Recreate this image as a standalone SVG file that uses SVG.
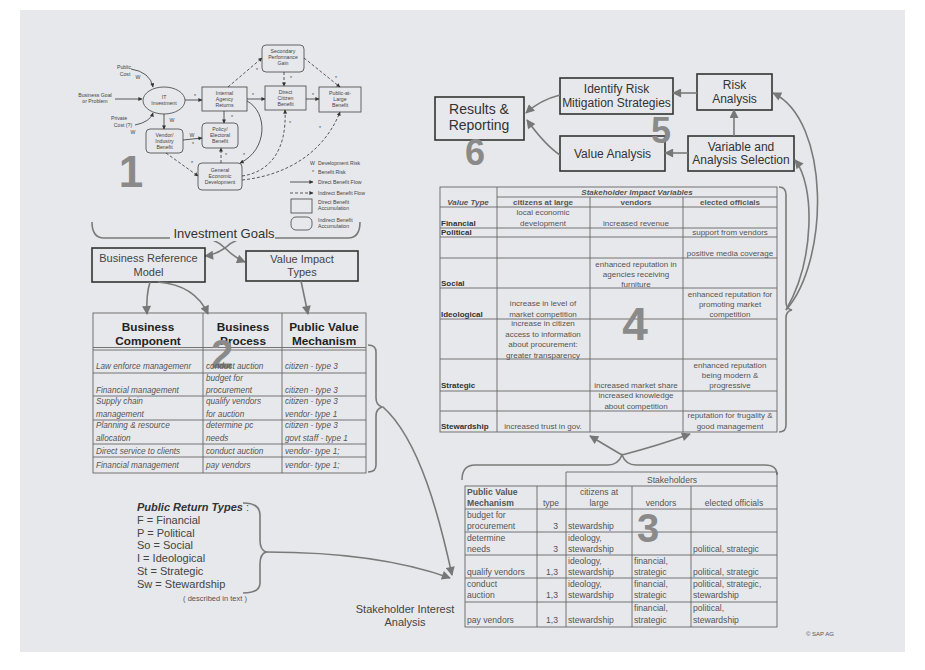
<svg xmlns="http://www.w3.org/2000/svg" width="925" height="670" viewBox="0 0 925 670">
<defs>
<marker id="a1" viewBox="0 0 10 10" refX="9" refY="5" markerUnits="userSpaceOnUse" markerWidth="5" markerHeight="4" orient="auto"><path d="M0,0 L10,5 L0,10 z" fill="#333"/></marker>
<marker id="ag" viewBox="0 0 10 10" refX="9" refY="5" markerUnits="userSpaceOnUse" markerWidth="11" markerHeight="9" orient="auto"><path d="M0,0 L10,5 L0,10 z" fill="#777"/></marker>
</defs>
<style>
.f{font-family:"Liberation Sans",Arial,sans-serif}
.d1{font-family:"Liberation Sans",Arial,sans-serif;font-size:5.2px;fill:#444;text-anchor:middle}
.dl{font-family:"Liberation Sans",Arial,sans-serif;font-size:5.2px;fill:#444}
.n1{fill:none;stroke:#555;stroke-width:0.9}
.c1{fill:none;stroke:#333;stroke-width:0.8}
.dash{stroke-dasharray:3,2}
.big{font-family:"Liberation Sans",Arial,sans-serif;font-weight:bold;fill:#8a8a8a;text-anchor:middle}
.box{fill:none;stroke:#333;stroke-width:1.6}
.flow{fill:none;stroke:#7a7a7a;stroke-width:1.6}
.bt{font-family:"Liberation Sans",Arial,sans-serif;font-size:12px;fill:#333;text-anchor:middle}
.tl{fill:none;stroke:#666;stroke-width:0.9}
.tt{font-family:"Liberation Sans",Arial,sans-serif;font-size:8px;fill:#555}
.tc{text-anchor:middle}
.t2{font-family:"Liberation Sans",Arial,sans-serif;font-size:8.2px;fill:#555;font-style:italic}
.h2{font-family:"Liberation Sans",Arial,sans-serif;font-size:11.8px;fill:#222;font-weight:bold;text-anchor:middle}
.t3{font-family:"Liberation Sans",Arial,sans-serif;font-size:8.6px;fill:#555}
.tb{font-weight:bold;fill:#333}
</style>
<rect x="0" y="0" width="925" height="670" fill="#ffffff"/>
<rect x="20" y="10" width="885" height="642" fill="#e7e8eb"/>

<!-- Diagram 1 -->
<g id="d1-nodes">
<g id="it-investment"><ellipse cx="164" cy="100.5" rx="21" ry="13.5" class="n1"/><text class="d1" x="164" y="99">IT</text><text class="d1" x="164" y="105">Investment</text></g>
<g id="internal-agency"><rect x="202" y="87" width="45" height="24" class="n1"/><text class="d1" x="224.5" y="95">Internal</text><text class="d1" x="224.5" y="101">Agency</text><text class="d1" x="224.5" y="107">Returns</text></g>
<g id="vendor-industry"><rect x="146" y="129" width="37" height="24" rx="4" class="n1"/><text class="d1" x="164.5" y="137">Vendor/</text><text class="d1" x="164.5" y="143">Industry</text><text class="d1" x="164.5" y="149">Benefit</text></g>
<g id="policy-electoral"><rect x="202" y="123" width="36" height="25" rx="4" class="n1"/><text class="d1" x="220" y="131">Policy/</text><text class="d1" x="220" y="137">Electoral</text><text class="d1" x="220" y="143">Benefit</text></g>
<g id="general-economic"><rect x="198" y="163" width="44" height="27" rx="4" class="n1"/><text class="d1" x="220" y="172">General</text><text class="d1" x="220" y="178">Economic</text><text class="d1" x="220" y="184">Development</text></g>
<g id="secondary-perf"><rect x="262" y="45" width="42" height="27" rx="4" class="n1"/><text class="d1" x="283" y="53">Secondary</text><text class="d1" x="283" y="59">Performance</text><text class="d1" x="283" y="65">Gain</text></g>
<g id="direct-citizen"><rect x="265" y="86" width="41" height="24" class="n1"/><text class="d1" x="285.5" y="94">Direct</text><text class="d1" x="285.5" y="100">Citizen</text><text class="d1" x="285.5" y="106">Benefit</text></g>
<g id="public-large"><rect x="319" y="87" width="42" height="25" class="n1"/><text class="d1" x="340" y="95">Public-at-</text><text class="d1" x="340" y="101">Large</text><text class="d1" x="340" y="107">Benefit</text></g>
<g id="d1-inputs">
<text class="d1" x="124" y="69">Public</text><text class="d1" x="125" y="76">Cost</text><text class="d1" x="138" y="79">W</text>
<text class="d1" x="95" y="97">Business Goal</text><text class="d1" x="95" y="103">or Problem</text>
<text class="d1" x="119" y="120">Private</text><text class="d1" x="123" y="127">Cost (?)</text><text class="d1" x="133" y="134">W</text>
</g>
</g>
<g id="d1-connectors">
<path class="c1" d="M131,69 Q150,72 153,87" marker-end="url(#a1)"/>
<path class="c1" d="M115,99 L142,99" marker-end="url(#a1)"/>
<path class="c1" d="M135,125 Q150,122 153,113" marker-end="url(#a1)"/>
<path class="c1" d="M185,100 L202,100" marker-end="url(#a1)"/>
<path class="c1" d="M164,114 L164,129" marker-end="url(#a1)"/>
<path class="c1" d="M224,111 L224,123" marker-end="url(#a1)"/>
<path class="c1" d="M183,140 L202,138" marker-end="url(#a1)"/>
<path class="c1 dash" d="M221,163 L221,148" marker-end="url(#a1)"/>
<path class="c1 dash" d="M166,153 L198,176" marker-end="url(#a1)"/>
<path class="c1" d="M247,101 C268,112 268,150 240,163" marker-end="url(#a1)"/>
<path class="c1 dash" d="M228,87 L262,58" marker-end="url(#a1)"/>
<path class="c1" d="M247,99 L265,99" marker-end="url(#a1)"/>
<path class="c1 dash" d="M284,72 L284,86" marker-end="url(#a1)"/>
<path class="c1 dash" d="M304,58 L340,87" marker-end="url(#a1)"/>
<path class="c1" d="M306,99 L319,99" marker-end="url(#a1)"/>
<path class="c1 dash" d="M242,176 C270,172 287,150 285,110" marker-end="url(#a1)"/>
<path class="c1 dash" d="M242,180 C290,175 325,150 340,112" marker-end="url(#a1)"/>
<g class="d1">
<text x="172" y="122">W</text><text x="192" y="137">W</text><text x="193" y="146">*</text>
<text x="195" y="98">*</text><text x="232" y="119">*</text><text x="226" y="157">*</text>
<text x="192" y="165">*</text><text x="244" y="157">*</text><text x="257" y="72">*</text>
<text x="253" y="97">*</text><text x="291" y="80">*</text><text x="336" y="80">*</text>
<text x="313" y="97">*</text><text x="290" y="125">*</text><text x="320" y="130">*</text>
</g>
</g>
<g id="d1-legend">
<text class="dl" x="310" y="165">W</text><text class="dl" x="318" y="165">Development Risk</text>
<text class="dl" x="312" y="174">*</text><text class="dl" x="318" y="174">Benefit Risk</text>
<path class="c1" d="M290,182 L313,182" marker-end="url(#a1)"/><text class="dl" x="318" y="184">Direct Benefit Flow</text>
<path class="c1 dash" d="M290,193 L313,193" marker-end="url(#a1)"/><text class="dl" x="318" y="195">Indirect Benefit Flow</text>
<rect x="291" y="199" width="21" height="14" class="n1"/><text class="dl" x="318" y="204">Direct Benefit</text><text class="dl" x="318" y="210">Accumulation</text>
<rect x="291" y="217" width="21" height="13" rx="5" class="n1"/><text class="dl" x="318" y="222">Indirect Benefit</text><text class="dl" x="318" y="228">Accumulation</text>
</g>
<text class="big" x="131" y="187" font-size="44">1</text>

<!-- Investment goals brace -->
<g id="investment-goals">
<path class="flow" d="M92,222 Q92,238 104,238 L200,238 Q215,238 225,248 Q235,258 245,262" marker-end="url(#ag)"/>
<path class="flow" d="M360,222 Q360,238 348,238 L250,238 Q235,238 225,248 Q215,255 205,256" marker-end="url(#ag)"/>
<rect x="170" y="226" width="105" height="15" fill="#e7e8eb"/>
<text class="f" x="224" y="238" font-size="13" fill="#333" text-anchor="middle">Investment Goals</text>
</g>
<g id="brm"><rect x="92" y="248" width="113" height="34" class="box"/><text class="f" x="148.5" y="262" font-size="11" fill="#444" text-anchor="middle">Business Reference</text><text class="f" x="148.5" y="276" font-size="11" fill="#444" text-anchor="middle">Model</text></g>
<g id="vit"><rect x="246" y="251" width="112" height="30" class="box"/><text class="f" x="302" y="263" font-size="11" fill="#444" text-anchor="middle">Value Impact</text><text class="f" x="302" y="276" font-size="11" fill="#444" text-anchor="middle">Types</text></g>
<g id="d2-connectors">
<path class="flow" d="M150,282 Q146,295 147,314" marker-end="url(#ag)"/>
<path class="flow" d="M158,282 Q195,285 208,314" marker-end="url(#ag)"/>
<path class="flow" d="M301,281 Q304,295 308,314" marker-end="url(#ag)"/>
</g>

<!-- Table 2 -->
<g id="table2">
<rect x="93" y="313" width="273" height="160" class="tl"/>
<path class="tl" d="M203,313 V473 M282,313 V473 M93,347.5 H366 M93,350 H366 M93,373 H366 M93,396 H366 M93,420 H366 M93,444 H366 M93,457 H366"/>
<text class="h2" x="148" y="331">Business</text><text class="h2" x="148" y="345">Component</text>
<text class="h2" x="243" y="331">Business</text><text class="h2" x="243" y="345">Process</text>
<text class="h2" x="324" y="331">Public Value</text><text class="h2" x="324" y="345">Mechanism</text>
<text class="big" x="222" y="368" font-size="40">2</text>
<g class="t2">
<text x="96" y="369">Law enforce managemenr</text><text x="206" y="369">conduct auction</text><text x="285" y="369">citizen - type 3</text>
<text x="96" y="393">Financial management</text><text x="206" y="381">budget for</text><text x="206" y="393">procurement</text><text x="285" y="393">citizen - type 3</text>
<text x="96" y="404">Supply chain</text><text x="96" y="417">management</text><text x="206" y="404">qualify vendors</text><text x="206" y="417">for auction</text><text x="285" y="404">citizen - type 3</text><text x="285" y="417">vendor- type 1</text>
<text x="96" y="428">Planning &amp; resource</text><text x="96" y="441">allocation</text><text x="206" y="428">determine pc</text><text x="206" y="441">needs</text><text x="285" y="428">citizen - type 3</text><text x="285" y="441">govt staff - type 1</text>
<text x="96" y="454">Direct service to clients</text><text x="206" y="454">conduct auction</text><text x="285" y="454">vendor- type 1;</text>
<text x="96" y="468">Financial management</text><text x="206" y="468">pay vendors</text><text x="285" y="468">vendor- type 1;</text>
</g>
<path class="flow" d="M368,345 Q376,345 376,352 L376,398 Q376,405 382,407 Q376,409 376,416 L376,465 Q376,472 368,472" stroke-width="1.2"/>
</g>

<!-- Top right -->
<g id="results"><rect x="435" y="97" width="89" height="43" class="box"/><text class="f" x="479" y="114" font-size="14" fill="#333" text-anchor="middle">Results &amp;</text><text class="f" x="479" y="130" font-size="14" fill="#333" text-anchor="middle">Reporting</text></g>
<text class="big" x="475" y="165" font-size="36">6</text>
<g id="identify"><rect x="560" y="78" width="113" height="36" class="box"/><text class="bt" x="616.5" y="93">Identify Risk</text><text class="bt" x="616.5" y="107">Mitigation Strategies</text></g>
<g id="risk"><rect x="697" y="74" width="75" height="36" class="box"/><text class="bt" x="734.5" y="89">Risk</text><text class="bt" x="734.5" y="103">Analysis</text></g>
<g id="value"><rect x="560" y="136" width="105" height="35" class="box"/><text class="bt" x="612.5" y="158">Value Analysis</text></g>
<g id="variable"><rect x="688" y="136" width="106" height="35" class="box"/><text class="bt" x="741" y="151">Variable and</text><text class="bt" x="741" y="164">Analysis Selection</text></g>
<text class="big" x="661" y="143" font-size="36">5</text>
<g id="tr-connectors">
<path class="flow" d="M560,95 Q540,100 526,113" marker-end="url(#ag)"/>
<path class="flow" d="M560,155 Q545,145 527,120" marker-end="url(#ag)"/>
<path class="flow" d="M697,93 L673,93" marker-end="url(#ag)"/>
<path class="flow" d="M688,153 L665,153" marker-end="url(#ag)"/>
<path class="flow" d="M734,136 L734,110" marker-end="url(#ag)"/>
<path class="flow" d="M786,310 C830,260 830,120 773,93" marker-end="url(#ag)"/>
<path class="flow" d="M786,310 C815,260 815,185 795,160" marker-end="url(#ag)"/>
</g>

<!-- Table 4 -->
<g id="table4">
<rect x="440" y="187" width="337" height="245" class="tl"/>
<path class="tl" d="M497,187 V432 M590,197 V432 M683,197 V432 M497,197 H777 M440,207 H777 M440,228 H777 M440,237 H777 M440,258 H777 M440,288 H777 M440,319 H777 M440,359 H777 M440,391 H777 M440,411 H777"/>
<text class="tt tc" x="637" y="195" font-style="italic" font-weight="bold" fill="#333">Stakeholder Impact Variables</text>
<text class="tt tc" x="468" y="205" font-style="italic" font-weight="bold" fill="#333">Value Type</text>
<text class="tt tc" x="543" y="205" font-weight="bold" fill="#333">citizens at large</text>
<text class="tt tc" x="636" y="205" font-weight="bold" fill="#333">vendors</text>
<text class="tt tc" x="730" y="205" font-weight="bold" fill="#333">elected officials</text>
<g class="tt tb"><text x="441" y="226">Financial</text><text x="441" y="235">Political</text><text x="441" y="286">Social</text><text x="441" y="317">Ideological</text><text x="441" y="388">Strategic</text><text x="441" y="429">Stewardship</text></g>
<g class="tt tc">
<text x="543" y="215">local economic</text><text x="543" y="226">development</text>
<text x="636" y="226">increased revenue</text>
<text x="730" y="235">support from vendors</text>
<text x="730" y="256">positive media coverage</text>
<text x="636" y="267">enhanced reputation in</text><text x="636" y="277">agencies receiving</text><text x="636" y="287">furniture</text>
<text x="543" y="306">increase in level of</text><text x="543" y="317">market competition</text>
<text x="730" y="297">enhanced reputation for</text><text x="730" y="307">promoting market</text><text x="730" y="317">competition</text>
<text x="543" y="326">increase in citizen</text><text x="543" y="337">access to information</text><text x="543" y="347">about procurement:</text><text x="543" y="358">greater transparency</text>
<text x="636" y="388">increased market share</text>
<text x="730" y="368">enhanced reputation</text><text x="730" y="378">being modern &amp;</text><text x="730" y="388">progressive</text>
<text x="636" y="398">increased knowledge</text><text x="636" y="409">about competition</text>
<text x="543" y="429">increased trust in gov.</text>
<text x="730" y="418">reputation for frugality &amp;</text><text x="730" y="429">good management</text>
</g>
<text class="big" x="635" y="340" font-size="46">4</text>
<path class="flow" d="M779,187 Q786,187 786,195 L786,302 Q786,309 792,310 Q786,311 786,318 L786,425 Q786,432 779,432" stroke-width="1.2"/>
</g>

<!-- Table 3 -->
<g id="table3">
<path class="flow" d="M462,480 Q462,465 475,465 L608,465 Q618,465 622,455 Q626,465 636,465 L765,465 Q777,465 777,475" stroke-width="1.2"/>
<rect x="465" y="486" width="312" height="141" class="tl"/>
<path class="tl" d="M566,472 H777 V486 M566,472 V627 M537,486 V627 M632,486 V627 M691,486 V627 M465,509 H777 M465,532 H777 M465,555 H777 M465,578 H777 M465,602 H777"/>
<text class="t3 tc" x="672" y="483" fill="#333">Stakeholders</text>
<text class="t3" x="467" y="495" font-weight="bold" fill="#333">Public Value</text><text class="t3" x="467" y="506" font-weight="bold" fill="#333">Mechanism</text>
<text class="t3 tc" x="551" y="506">type</text>
<text class="t3 tc" x="599" y="495">citizens at</text><text class="t3 tc" x="599" y="506">large</text>
<text class="t3 tc" x="661" y="506">vendors</text><text class="t3 tc" x="734" y="506">elected officials</text>
<g class="t3">
<text x="467" y="518">budget for</text><text x="467" y="529">procurement</text>
<text x="467" y="541">determine</text><text x="467" y="552">needs</text>
<text x="467" y="575">qualify vendors</text>
<text x="467" y="587">conduct</text><text x="467" y="598">auction</text>
<text x="467" y="623">pay vendors</text>
<text x="568" y="529">stewardship</text>
<text x="568" y="541">ideology,</text><text x="568" y="552">stewardship</text>
<text x="568" y="564">ideology,</text><text x="568" y="575">stewardship</text>
<text x="568" y="587">ideology,</text><text x="568" y="598">stewardship</text>
<text x="568" y="623">stewardship</text>
<text x="634" y="564">financial,</text><text x="634" y="575">strategic</text>
<text x="634" y="587">financial,</text><text x="634" y="598">strategic</text>
<text x="634" y="611">financial,</text><text x="634" y="623">strategic</text>
<text x="693" y="552">political, strategic</text>
<text x="693" y="575">political, strategic</text>
<text x="693" y="587">political, strategic,</text><text x="693" y="598">stewardship</text>
<text x="693" y="611">political,</text><text x="693" y="623">stewardship</text>
</g>
<g class="t3" text-anchor="end"><text x="558" y="529">3</text><text x="558" y="552">3</text><text x="558" y="575">1,3</text><text x="558" y="598">1,3</text><text x="558" y="623">1,3</text></g>
<text class="big" x="648" y="542" font-size="40">3</text>
</g>
<g id="t3-t4-connectors">
<path class="flow" d="M622,455 Q605,445 590,436" marker-end="url(#ag)"/>
<path class="flow" d="M622,455 Q660,445 690,434" marker-end="url(#ag)"/>
</g>

<!-- Public return types -->
<g id="public-return">
<text class="f" x="137" y="511" font-size="11" font-weight="bold" font-style="italic" fill="#333">Public Return Types</text><text class="f" x="246" y="511" font-size="11" fill="#555">:</text>
<g class="f" font-size="11" fill="#444">
<text x="137" y="524">F = Financial</text><text x="137" y="537">P = Political</text><text x="137" y="549">So = Social</text><text x="137" y="562">I = Ideological</text><text x="137" y="575">St = Strategic</text><text x="137" y="588">Sw = Stewardship</text>
</g>
<text class="f" x="215" y="601" font-size="7.5" fill="#555" text-anchor="middle">( described in text )</text>
<path class="flow" d="M243,503 Q260,503 260,515 L260,540 Q260,550 266,552 Q260,554 260,564 L260,583 Q260,593 243,593" stroke-width="1.2"/>
</g>
<g id="sia-connectors">
<path class="flow" d="M383,407 C420,440 440,520 452,575" marker-end="url(#ag)"/>
<path class="flow" d="M266,552 C340,552 400,560 450,578" marker-end="url(#ag)"/>
</g>
<text class="f" x="405" y="613" font-size="11" fill="#444" text-anchor="middle">Stakeholder Interest</text>
<text class="f" x="405" y="626" font-size="11" fill="#444" text-anchor="middle">Analysis</text>
<text class="f" x="806" y="636" font-size="6" fill="#555">© SAP AG</text>
</svg>
